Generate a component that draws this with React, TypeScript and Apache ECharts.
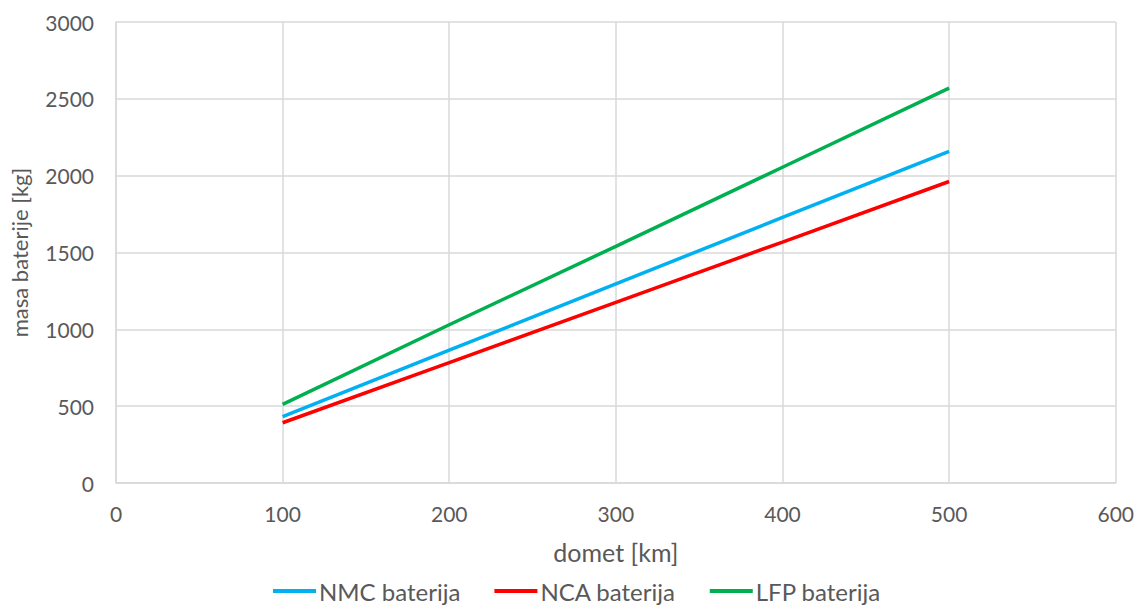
import React, { useEffect, useRef } from "react";
import * as echarts from "echarts";

const domet = [100, 200, 300, 400, 500];
const nmc = [432, 864, 1296, 1728, 2158];
const nca = [392, 784, 1176, 1568, 1962];
const lfp = [512, 1030, 1540, 2055, 2570];
const seriesNames = ["NMC baterija", "NCA baterija", "LFP baterija"];
const colors = ["#00B0F0", "#FF0000", "#00B050"];

const FONT = "Lato";
const TXT = "#595959";

export default function App() {
  const ref = useRef<HTMLDivElement>(null);
  useEffect(() => {
    const chart = echarts.init(ref.current!, null, { renderer: "svg" });
    const datasets = [nmc, nca, lfp];
    chart.setOption({
      animation: false,
      textStyle: { fontFamily: FONT, color: TXT },
      grid: { left: 116, right: 21, top: 22, bottom: 125 },
      legend: {
        bottom: 0,
        left: 268,
        itemWidth: 43,
        itemHeight: 4,
        itemGap: 34,
        icon: "rect",
        textStyle: { fontFamily: FONT, fontSize: 24, color: TXT, padding: [0, 0, 0, -2] },
        data: seriesNames,
      },
      xAxis: {
        type: "value",
        min: 0,
        max: 600,
        interval: 100,
        name: "domet [km]",
        nameLocation: "middle",
        nameGap: 56,
        nameTextStyle: { fontFamily: FONT, fontSize: 25, color: TXT },
        axisLine: { show: true, lineStyle: { color: "#D9D9D9", width: 1.5 } },
        axisTick: { show: false },
        axisLabel: {
          fontFamily: FONT,
          fontSize: 21,
          color: TXT,
          margin: 20,
          formatter: (v: number) => String(v),
        },
        splitLine: { show: true, lineStyle: { color: "#D9D9D9", width: 1.5 } },
      },
      yAxis: {
        type: "value",
        min: 0,
        max: 3000,
        interval: 500,
        name: "masa baterije [kg]",
        nameLocation: "middle",
        nameGap: 86,
        nameTextStyle: { fontFamily: FONT, fontSize: 22, color: TXT },
        axisLine: { show: true, lineStyle: { color: "#D9D9D9", width: 1.5 } },
        axisTick: { show: false },
        axisLabel: {
          fontFamily: FONT,
          fontSize: 21,
          color: TXT,
          margin: 22,
          formatter: (v: number) => String(v),
        },
        splitLine: { show: true, lineStyle: { color: "#D9D9D9", width: 1.5 } },
      },
      series: seriesNames.map((name, i) => ({
        name,
        type: "line",
        data: domet.map((x, j) => [x, datasets[i][j]]),
        showSymbol: false,
        symbol: "none",
        lineStyle: { color: colors[i], width: 3.5 },
        itemStyle: { color: colors[i] },
      })),
    });
    return () => chart.dispose();
  }, []);
  return <div ref={ref} style={{ width: 1137, height: 608, position: "absolute", left: 0, top: 0 }} />;
}
